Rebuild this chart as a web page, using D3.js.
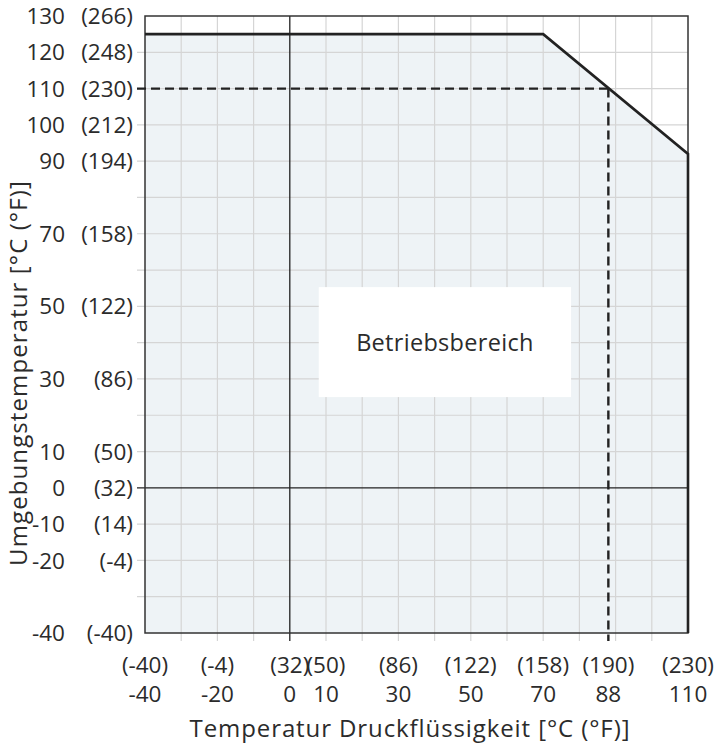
<!DOCTYPE html>
<html>
<head>
<meta charset="utf-8">
<script src="https://cdn.jsdelivr.net/npm/d3@7"></script>
<style>
  body { margin: 0; background: #fff; }
  text { font-family: "Open Sans", sans-serif; fill: #2b2b2b; }
</style>
</head>
<body>
<div id="chart"></div>
<script>
// tick labels, Celsius values with their Fahrenheit counterparts
var xTicksC = [-40, -20, 0, 10, 30, 50, 70, 88, 110];
var xTicksF = ["(-40)", "(-4)", "(32)", "(50)", "(86)", "(122)", "(158)", "(190)", "(230)"];
var yTicksC = [130, 120, 110, 100, 90, 70, 50, 30, 10, 0, -10, -20, -40];
var yTicksF = ["(266)", "(248)", "(230)", "(212)", "(194)", "(158)", "(122)", "(86)", "(50)", "(32)", "(14)", "(-4)", "(-40)"];

// operating limit (fluid temp vs ambient temp)
var limitX = [-40, 70, 110, 110];
var limitY = [125, 125, 92, -40];

// marked point
var markX = 88, markY = 110;

// label box
var boxX = [8, 77.7], boxY = [25, 55.3];
var boxLabel = "Betriebsbereich";

var xTitle = "Temperatur Druckflüssigkeit [°C (°F)]";
var yTitle = "Umgebungstemperatur [°C (°F)]";

var margin = {top: 16, right: 30, bottom: 110, left: 145},
    width = 718 - margin.left - margin.right,
    height = 743 - margin.top - margin.bottom;

var svg = d3.select("#chart")
  .append("svg")
    .attr("width", 718)
    .attr("height", 743)
  .append("g")
    .attr("transform", "translate(" + margin.left + "," + margin.top + ")");

var x = d3.scaleLinear().domain([-40, 110]).range([0, width]);
var y = d3.scaleLinear().domain([-40, 130]).range([height, 0]);

var line = d3.line()
  .x(function(d) { return x(d[0]); })
  .y(function(d) { return y(d[1]); });

var pts = limitX.map(function(d, i) { return [d, limitY[i]]; });

// filled operating area
svg.append("path")
  .attr("d", line([[-40, -40]].concat(pts)) + "Z")
  .attr("fill", "#eef3f6");

// grid + outer ticks
var gridX = d3.range(-30, 110, 10).filter(function(d) { return d != 0; });
var gridY = d3.range(-30, 130, 10).filter(function(d) { return d != 0; });

svg.selectAll(".gx").data(gridX).enter().append("line")
  .attr("x1", function(d) { return x(d); }).attr("x2", function(d) { return x(d); })
  .attr("y1", 0).attr("y2", height + 8)
  .attr("stroke", "#d5d5d5").attr("stroke-width", 1.2);

svg.selectAll(".gy").data(gridY).enter().append("line")
  .attr("y1", function(d) { return y(d); }).attr("y2", function(d) { return y(d); })
  .attr("x1", -8).attr("x2", width)
  .attr("stroke", "#d5d5d5").attr("stroke-width", 1.2);

// white label box
svg.append("rect")
  .attr("x", x(boxX[0]))
  .attr("y", y(boxY[1]))
  .attr("width", x(boxX[1]) - x(boxX[0]))
  .attr("height", y(boxY[0]) - y(boxY[1]))
  .attr("fill", "#fff");

svg.append("text")
  .attr("x", x((boxX[0] + boxX[1]) / 2))
  .attr("y", y((boxY[0] + boxY[1]) / 2))
  .attr("dy", "0.36em")
  .attr("text-anchor", "middle")
  .style("font-size", "23.5px")
  .style("letter-spacing", "0.3px")
  .text(boxLabel);

// zero lines
svg.append("line")
  .attr("x1", x(0)).attr("x2", x(0)).attr("y1", 0).attr("y2", height + 8)
  .attr("stroke", "#222").attr("stroke-width", 1.3);
svg.append("line")
  .attr("y1", y(0)).attr("y2", y(0)).attr("x1", -8).attr("x2", width)
  .attr("stroke", "#222").attr("stroke-width", 1.3);

// frame
svg.append("rect")
  .attr("width", width).attr("height", height)
  .attr("fill", "none")
  .attr("stroke", "#333").attr("stroke-width", 1.5);

// limit line
svg.append("path")
  .attr("d", line(pts))
  .attr("fill", "none")
  .attr("stroke", "#222")
  .attr("stroke-width", 2.6);

// dashed marker lines
svg.append("line")
  .attr("x1", -8).attr("x2", x(markX))
  .attr("y1", y(markY)).attr("y2", y(markY))
  .attr("stroke", "#222").attr("stroke-width", 2.4)
  .attr("stroke-dasharray", "9,5");
svg.append("line")
  .attr("x1", x(markX)).attr("x2", x(markX))
  .attr("y1", y(markY)).attr("y2", height + 8)
  .attr("stroke", "#222").attr("stroke-width", 2.4)
  .attr("stroke-dasharray", "9,5");

// y labels (two columns)
svg.selectAll(".ylc").data(yTicksC).enter().append("text")
  .attr("x", -80)
  .attr("y", function(d) { return y(d); })
  .attr("dy", "0.36em")
  .attr("text-anchor", "end")
  .style("font-size", "22.5px")
  .text(function(d) { return d; });

svg.selectAll(".ylf").data(yTicksF).enter().append("text")
  .attr("x", -12)
  .attr("y", function(d, i) { return y(yTicksC[i]); })
  .attr("dy", "0.36em")
  .attr("text-anchor", "end")
  .style("font-size", "22.5px")
  .text(function(d) { return d; });

// x labels (two rows)
svg.selectAll(".xlf").data(xTicksF).enter().append("text")
  .attr("x", function(d, i) { return x(xTicksC[i]); })
  .attr("y", height + 40)
  .attr("text-anchor", "middle")
  .style("font-size", "22.5px")
  .text(function(d) { return d; });

svg.selectAll(".xlc").data(xTicksC).enter().append("text")
  .attr("x", function(d) { return x(d); })
  .attr("y", height + 69)
  .attr("text-anchor", "middle")
  .style("font-size", "22.5px")
  .text(function(d) { return d; });

// axis titles
svg.append("text")
  .attr("x", 410 - margin.left)
  .attr("y", height + 104)
  .attr("text-anchor", "middle")
  .style("font-size", "24px")
  .style("letter-spacing", "0.9px")
  .text(xTitle);

svg.append("text")
  .attr("transform", "translate(" + (27 - margin.left) + "," + (373 - margin.top) + ")rotate(-90)")
  .attr("text-anchor", "middle")
  .style("font-size", "24px")
  .style("letter-spacing", "1.1px")
  .text(yTitle);
</script>
</body>
</html>
